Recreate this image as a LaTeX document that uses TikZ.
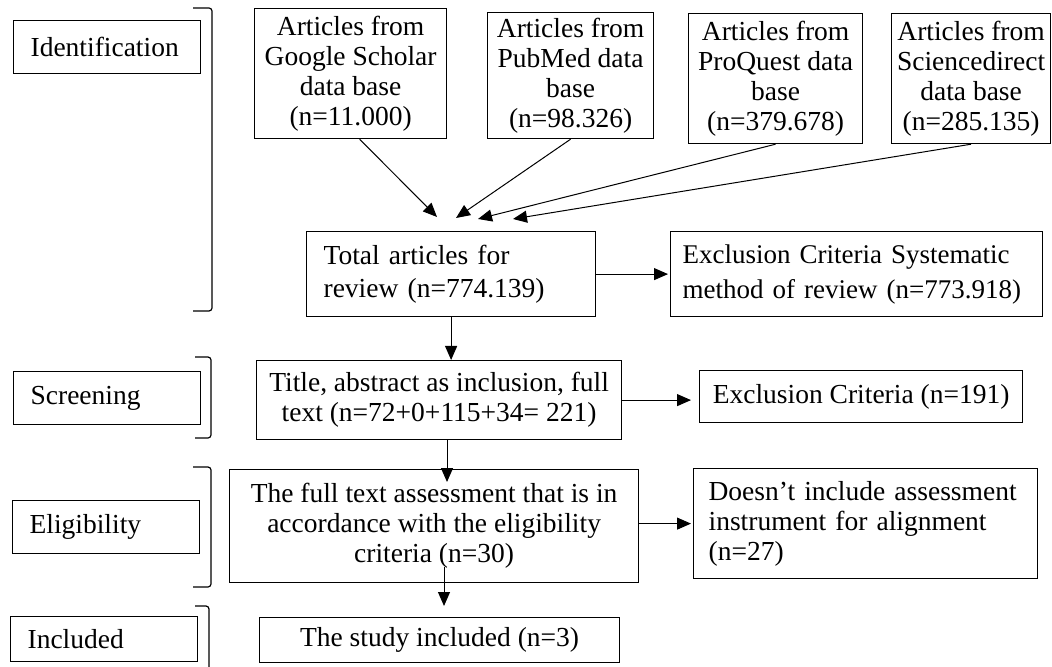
\documentclass[tikz,border=0pt]{standalone}
\usepackage{fontspec}
\setmainfont{Liberation Serif}
\usetikzlibrary{positioning,arrows.meta,calc}

\begin{document}
\begin{tikzpicture}[x=0.5pt, y=-0.5pt,
  stage/.style={draw, line width=0.6pt, anchor=north west, align=left, font=\fontsize{13.75}{15}\selectfont,
                inner xsep=8.5pt, inner ysep=0pt, text width=76.5pt, minimum height=26.5pt},
  src/.style={draw, line width=0.6pt, anchor=north west, align=center, font=\fontsize{13.75}{15}\selectfont,
              inner sep=0pt},
  side/.style={draw, line width=0.6pt, anchor=north west, align=left, font=\fontsize{13.75}{15}\selectfont,
               inner ysep=0pt},
  arr/.style={-{Triangle[length=7pt,width=6pt]}, line width=0.5pt},
  brk/.style={line width=0.6pt, rounded corners=1.5pt}]

\useasboundingbox (0,0) rectangle (1052,667);

% stage labels and their brackets
\node[stage] (idn) at (13,20) {Identification};
\node[stage] (scr) at (13,371) {Screening};
\node[stage] (elg) at (12,500) {Eligibility};
\node[stage, minimum height=22.5pt] (inc) at (10,616) {Included};

\draw[brk] (193,8) -- (212,8) -- (212,311) -- (193,311);
\draw[brk] (195,357) -- (211,357) -- (211,438) -- (195,438);
\draw[brk] (193,467) -- (211,467) -- (211,587) -- (193,587);
\draw[brk] (195,606) -- (209,606) -- (209,667);

% data bases
\node[src, minimum width=96pt, minimum height=65pt] (gs) at (254,8) {Articles from\\Google Scholar\\data base\\(n=11.000)};
\node[src, minimum width=83pt, minimum height=63pt] (pm) at (487,12) {Articles from\\PubMed data\\base\\(n=98.326)};
\node[src, minimum width=87pt, minimum height=65pt] (pq) at (688,13) {Articles from\\ProQuest data\\base\\(n=379.678)};
\node[src, minimum width=79.5pt, minimum height=65pt] (sd) at (891,13) {Articles from\\Sciencedirect\\data base\\(n=285.135)};

\coordinate (m1) at (437,217);
\coordinate (m2) at (456,218);
\coordinate (m3) at (478,219);
\coordinate (m4) at (513,219);
\draw[arr] ([xshift=4.5pt]gs.south) -- (m1);
\draw[arr] (pm.south) -- (m2);
\draw[arr] (pq.south) -- (m3);
\draw[arr] (sd.south) -- (m4);

% flow
\node[side, text width=127.5pt, inner xsep=8.5pt, minimum height=42.5pt, font=\fontsize{13.75}{16.5}\selectfont]
  (total) at (306,231) {Total articles for\\review (n=774.139)};
\node[side, text width=174pt, inner xsep=6pt, minimum height=42.5pt, font=\fontsize{13.5}{17.5}\selectfont]
  (excl) at (670,231) {Exclusion Criteria Systematic\\method of review (n=773.918)};
\node[src, minimum width=182.5pt, minimum height=39.5pt] (title) at (256,360) {Title, abstract as inclusion, full\\text (n=72+0+115+34= 221)};
\node[src, minimum width=161.5pt, minimum height=26pt] (exsc) at (699,370) {Exclusion Criteria (n=191)};
\node[src, minimum width=204.5pt, minimum height=56.5pt] (fulltext) at (229,469) {The full text assessment that is in\\accordance with the eligibility\\criteria (n=30)};
\node[side, text width=157pt, inner xsep=7.5pt, minimum height=55pt] (notinc) at (693,468) {Doesn’t include assessment\\instrument for alignment\\(n=27)};
\node[src, minimum width=180pt, minimum height=22.5pt] (study) at (259,617) {The study included (n=3)};

\draw[arr, shorten >=1pt] (total.east) -- (excl.west);
\draw[arr] (total.south) -- (total.south |- title.north);
\coordinate (ftin) at (447,482);
\draw[arr] (title.south -| ftin) -- (ftin);
\draw[arr, shorten >=4pt] (title.east) -- (title.east -| exsc.west);
\coordinate (ftout) at (444,567);
\draw[arr] (ftout) -- ([yshift=5.5pt]study.north -| ftout);
\draw[arr, shorten >=1pt] (fulltext.east |- notinc.west) -- (notinc.west);
\end{tikzpicture}
\end{document}
